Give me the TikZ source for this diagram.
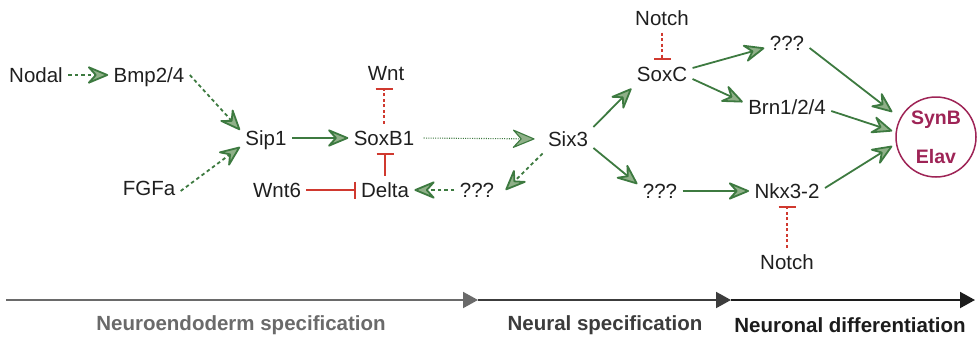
\documentclass[tikz,border=0pt]{standalone}
\usepackage{fontspec}
\setmainfont{Liberation Sans}
\usetikzlibrary{arrows.meta}
\definecolor{gline}{HTML}{3D7A40}
\definecolor{gfill}{HTML}{8FB088}
\definecolor{rline}{HTML}{D0392F}
\definecolor{synred}{HTML}{9E2456}
\definecolor{tlone}{HTML}{6A6A6A}
\definecolor{tltwo}{HTML}{3C3C3C}
\definecolor{tlthree}{HTML}{1C1C1C}
\begin{document}
\begin{tikzpicture}[x=1pt,y=-1pt,
  gene/.style={font=\fontsize{20.5}{24}\selectfont, text=black!88, inner xsep=3pt, inner ysep=3pt, outer sep=2.5pt, text height=16pt, text depth=2pt},
  act/.style={draw=gline, line width=1.8pt, -{Stealth[length=24pt,width=20pt,inset=9pt,fill=gfill,round]}},
  actdash/.style={act, dash pattern=on 3.5pt off 3pt},
  actdot/.style={act, line width=1.1pt, dash pattern=on 1pt off 1.3pt},
  inh/.style={draw=rline, line width=1.8pt, -{Bar[width=17pt,line width=2pt]}},
  inhdash/.style={inh, line width=1.5pt, dash pattern=on 3pt off 2.5pt},
  tl/.style={line width=2pt, -{Triangle[length=15pt,width=16pt]}},
  phase/.style={font=\bfseries\fontsize{20.5}{24}\selectfont, inner sep=0pt}
]
\useasboundingbox (0,0) rectangle (977,340);

% nodes
\node[gene] (nodal) at (36,75) {Nodal};
\node[gene] (bmp) at (149,75) {Bmp2/4};
\node[gene] (sip) at (266,138) {Sip1};
\node[gene] (fgfa) at (149,188) {FGFa};
\node[gene] (soxb) at (384,138) {SoxB1};
\node[gene] (wnt) at (386,73) {Wnt};
\node[gene] (wnt6) at (277,190) {Wnt6};
\node[gene] (delta) at (385,190) {Delta};
\node[gene] (qa) at (477,190) {???};
\node[gene] (six) at (568,139) {Six3};
\node[gene] (notcht) at (662,18) {Notch};
\node[gene] (soxc) at (662,74) {SoxC};
\node[gene] (qt) at (787,43) {???};
\node[gene] (brn) at (787,107) {Brn1/2/4};
\node[gene] (qm) at (660,191) {???};
\node[gene] (nkx) at (787,191) {Nkx3-2};
\node[gene] (notchb) at (787,262) {Notch};
\node[circle, draw=synred, line width=1.5pt, minimum size=80pt, inner sep=0pt, align=center, text=synred, font=\bfseries\fontsize{19.5}{39}\selectfont] (syn) at (936,137) {SynB\\Elav};

% activations
\draw[actdash] (nodal.east) -- (bmp.west);
\draw[actdash] (bmp.east) -- ([yshift=8pt]sip.west);
\draw[actdash] ([yshift=-3pt]fgfa.east) -- ([yshift=-9pt]sip.west);
\draw[act] (sip.east) -- (soxb.west);
\draw[actdot, shorten <=4pt, shorten >=8pt] (soxb.east) -- (six.west);
\draw[actdash] (six.south west) -- ([xshift=6pt]qa.east);
\draw[actdash] (qa.west) -- (delta.east);
\draw[act] ([yshift=12pt]six.east) -- (soxc.south west);
\draw[act] ([yshift=-9pt]six.east) -- ([yshift=7pt]qm.west);
\draw[act] ([yshift=6pt]soxc.east) -- ([yshift=-5pt]qt.west);
\draw[act] ([yshift=-5pt]soxc.east) -- ([yshift=5pt]brn.west);
\draw[act] (qm.east) -- (nkx.west);
\draw[act] ([yshift=-5pt]qt.east) -- ([shift={(-3pt,25pt)}]syn.west);
\draw[act] ([yshift=-4pt]brn.east) -- ([shift={(-3pt,6pt)}]syn.west);
\draw[act] ([yshift=3pt]nkx.east) -- ([shift={(-3pt,-9pt)}]syn.west);

% inhibitions
\draw[inh] (wnt6.east) -- (delta.west);
\draw[inh] (delta.north) -- (delta.north |- soxb.south);
\draw[inhdash] (soxb.north) -- (soxb.north |- wnt.south);
\draw[inhdash] (notcht.south) -- (soxc.north);
\draw[inhdash] (notchb.north) -- (nkx.south);

% timeline
\coordinate (t0) at (6,300);
\coordinate (t1) at (478,300);
\coordinate (t2) at (731,300);
\coordinate (t3) at (975,300);
\draw[tl, draw=tlone, fill=tlone] (t0) -- (t1);
\draw[tl, draw=tltwo, fill=tltwo] (t1) -- (t2);
\draw[tl, draw=tlthree, fill=tlthree] (t2) -- (t3);
\node[phase, text=tlone] (p1) at (241,325) {Neuroendoderm specification};
\node[phase, text=tltwo] (p2) at (605,325) {Neural specification};
\node[phase, text=tlthree] (p3) at (850,325) {Neuronal differentiation};
\end{tikzpicture}
\end{document}
